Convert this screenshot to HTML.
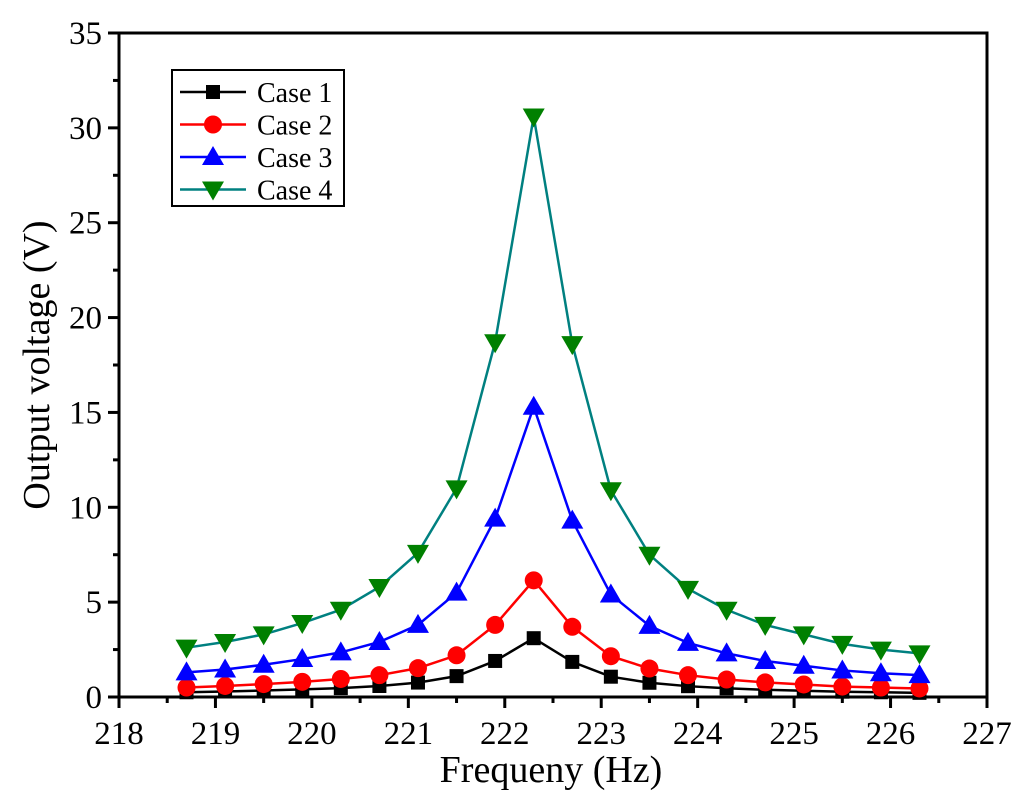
<!DOCTYPE html>
<html><head><meta charset="utf-8"><style>body{margin:0;background:#fff}svg{display:block;font-family:"Liberation Serif",serif}</style></head>
<body>
<svg id="chart" width="1024" height="809" viewBox="0 0 1024 809"></svg>
<script>
const xVals=[218.7,219.1,219.5,219.9,220.3,220.7,221.1,221.5,221.9,222.3,222.7,223.1,223.5,223.9,224.3,224.7,225.1,225.5,225.9,226.3];
const case1=[0.25,0.29,0.34,0.4,0.47,0.58,0.76,1.1,1.9,3.1,1.85,1.07,0.75,0.57,0.46,0.38,0.33,0.28,0.25,0.22];
const case2=[0.5,0.58,0.68,0.8,0.95,1.15,1.52,2.2,3.8,6.15,3.7,2.15,1.5,1.15,0.92,0.77,0.66,0.55,0.5,0.45];
const case3=[1.3,1.45,1.7,2.0,2.35,2.9,3.8,5.5,9.4,15.3,9.3,5.4,3.75,2.85,2.3,1.9,1.65,1.4,1.25,1.15];
const case4=[2.6,2.9,3.3,3.9,4.6,5.8,7.6,11.0,18.7,30.6,18.6,10.9,7.5,5.7,4.6,3.8,3.3,2.8,2.5,2.3];
const xTicks=[218,219,220,221,222,223,224,225,226,227];
const yTicks=[0,5,10,15,20,25,30,35];
const L=119,R=987,T=33,B=697;
const sx=v=>L+(v-218)/9*(R-L), sy=v=>B-v/35*(B-T);
const svg=document.getElementById('chart');const NS='http://www.w3.org/2000/svg';
function mk(t,a,p){const e=document.createElementNS(NS,t);for(const k in a)e.setAttribute(k,a[k]);(p||svg).appendChild(e);return e;}
const frame=mk('rect',{x:L,y:T,width:R-L,height:B-T,fill:'none',stroke:'#000','stroke-width':3});


for(let v=218;v<=227;v+=0.5){const x=sx(v),maj=Number.isInteger(v);
 const t=mk('line',{x1:x,x2:x,y1:B,y2:B+(maj?11:6),stroke:'#000','stroke-width':3});
 
 }
xTicks.forEach(v=>{const t=mk('text',{x:sx(v),y:B+47,'font-size':33,'text-anchor':'middle'});t.textContent=v;
 
 });
for(let v=0;v<=35;v+=2.5){const y=sy(v),maj=v%5===0;
 const t=mk('line',{x1:L,x2:L-(maj?11:6),y1:y,y2:y,stroke:'#000','stroke-width':3});
 
 }
yTicks.forEach(v=>{const t=mk('text',{x:L-17,y:sy(v)+11,'font-size':33,'text-anchor':'end'});t.textContent=v;
 
 });
const xt=mk('text',{x:551,y:782,'font-size':38,'text-anchor':'middle'});xt.textContent='Frequeny (Hz)';


const yt=mk('text',{x:0,y:0,'font-size':38,'text-anchor':'middle',transform:'translate(49,365) rotate(-90)'});yt.textContent='Output voltage (V)';


function marker(g,type,x,y,c){
 if(type==='sq')mk('rect',{x:x-7,y:y-7,width:14,height:14,fill:c},g);
 else if(type==='ci')mk('circle',{cx:x,cy:y,r:9,fill:c},g);
 else if(type==='up')mk('polygon',{points:`${x},${y-11} ${x-11},${y+8} ${x+11},${y+8}`,fill:c},g);
 else mk('polygon',{points:`${x},${y+11} ${x-11},${y-8} ${x+11},${y-8}`,fill:c},g);}
const series=[[case1,'#000','#000','sq','Case 1'],[case2,'#f00','#f00','ci','Case 2'],[case3,'#00f','#00f','up','Case 3'],[case4,'#008080','#008000','dn','Case 4']];
series.forEach((s,i)=>{const g=mk('g',{});
 
 
 mk('polyline',{points:xVals.map((v,j)=>sx(v)+','+sy(s[0][j])).join(' '),fill:'none',stroke:s[1],'stroke-width':2.5},g);
 xVals.forEach((v,j)=>marker(g,s[3],sx(v),sy(s[0][j]),s[2]));});
const lg=mk('g',{});


mk('rect',{x:172,y:70,width:172,height:136,fill:'#fff',stroke:'#000','stroke-width':2},lg);
series.forEach((s,i)=>{const y=92+i*32.5;const e=mk('g',{},lg);
 
 
 mk('line',{x1:180,x2:246,y1:y,y2:y,stroke:s[1],'stroke-width':2.5},e);
 marker(e,s[3],213,y,s[2]);
 const t=mk('text',{x:257,y:y+10,'font-size':28},e);t.textContent=s[4];});
</script>
</body></html>
